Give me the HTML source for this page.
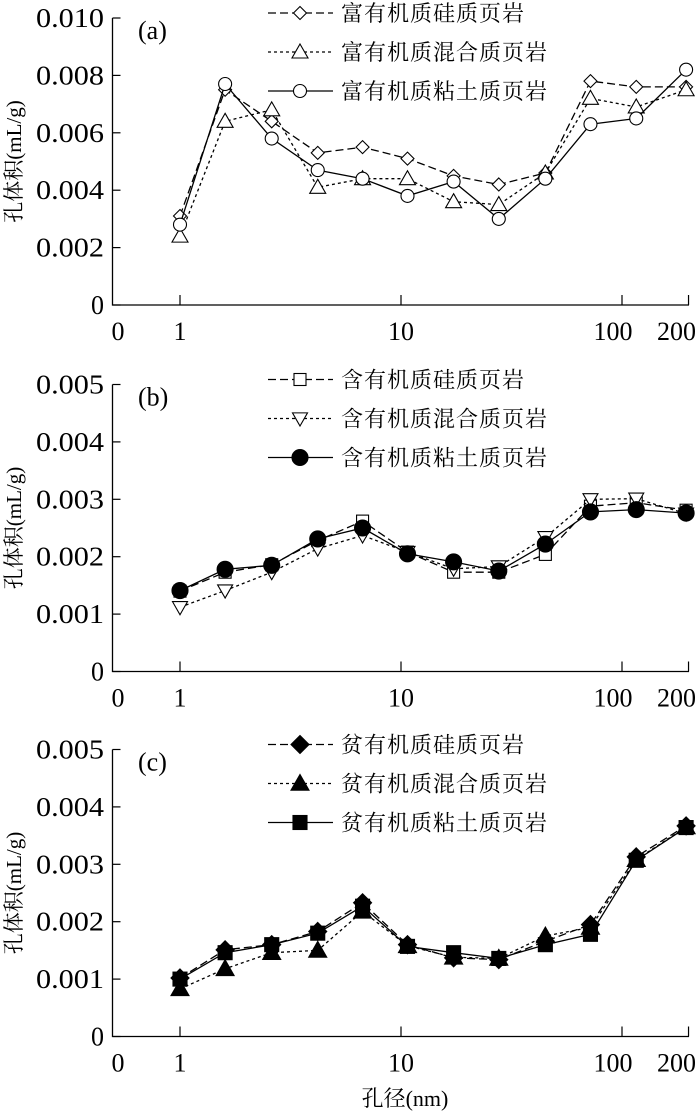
<!DOCTYPE html>
<html><head><meta charset="utf-8"><style>
html,body{margin:0;padding:0;background:#fff;}
svg{display:block;font-family:"Liberation Serif","Noto Serif CJK SC",serif;}
.cj{font-family:"Liberation Serif","Noto Serif CJK SC","Noto Sans CJK SC",serif;}
</style></head><body>
<svg id="chart" width="700" height="1115" viewBox="0 0 700 1115" xmlns="http://www.w3.org/2000/svg">
<text class="cj" x="405" y="1106" font-size="22" text-anchor="middle">孔径(nm)</text>
</svg>
<script>
const xValues=[1,1.6,2.6,4.2,6.7,10.7,17.3,27.7,45,72,116,195];
const xTickValues=[1,10,100,200];
const xTickLabels=["1","10","100","200"];
const aSilicic=[0.0031,0.0075,0.0064,0.0053,0.0055,0.0051,0.0045,0.0042,0.0046,0.0078,0.0076,0.0076];
const aMixed=[0.0024,0.0064,0.0068,0.0041,0.0044,0.0044,0.0036,0.0035,0.0046,0.0072,0.0069,0.0075];
const aClay=[0.0028,0.0077,0.0058,0.0047,0.0044,0.0038,0.0043,0.0030,0.0044,0.0063,0.0065,0.0082];
const bSilicic=[0.00140,0.00173,0.00186,0.00228,0.00262,0.00208,0.00173,0.00173,0.00204,0.00288,0.00294,0.00281];
const bMixed=[0.00112,0.00141,0.00173,0.00214,0.00237,0.00208,0.00179,0.00183,0.00234,0.00300,0.00301,0.00275];
const bClay=[0.00141,0.00178,0.00185,0.00231,0.00250,0.00205,0.00191,0.00175,0.00222,0.00278,0.00282,0.00276];
const cSilicic=[0.00102,0.00151,0.00160,0.00183,0.00233,0.00160,0.00137,0.00134,0.00166,0.00195,0.00313,0.00367];
const cMixed=[0.00083,0.00118,0.00146,0.00150,0.00218,0.00158,0.00138,0.00136,0.00175,0.00190,0.00308,0.00365];
const cClay=[0.00100,0.00146,0.00160,0.00180,0.00227,0.00157,0.00146,0.00136,0.00160,0.00178,0.00307,0.00364];
const aTicks=["0","0.002","0.004","0.006","0.008","0.010"];
const bTicks=["0","0.001","0.002","0.003","0.004","0.005"];
const aNames=["富有机质硅质页岩","富有机质混合质页岩","富有机质粘土质页岩"];
const bNames=["含有机质硅质页岩","含有机质混合质页岩","含有机质粘土质页岩"];
const cNames=["贫有机质硅质页岩","贫有机质混合质页岩","贫有机质粘土质页岩"];

const NS="http://www.w3.org/2000/svg";
const svg=document.getElementById('chart');
function mk(tag,attrs,parent){const e=document.createElementNS(NS,tag);for(const k in attrs)e.setAttribute(k,attrs[k]);(parent||svg).appendChild(e);return e;}
const X0=112.5,XR=689;
function xs(v){return 180+Math.log10(v)*221;}
const dashes=["8,4","3,3",""];

function marker(g,type,cx,cy,filled){
  const fill=filled?"#000":"#fff";let e;
  if(type==="diamond"){const r=filled?9:6.5;e=mk('polygon',{points:`${cx},${cy-r} ${cx+r},${cy} ${cx},${cy+r} ${cx-r},${cy}`,fill:fill,stroke:"#000","stroke-width":1.1},g);}
  else if(type==="tri"){const r=filled?9:8;e=mk('polygon',{points:`${cx},${cy-r} ${cx+r},${cy+r*0.75} ${cx-r},${cy+r*0.75}`,fill:fill,stroke:"#000","stroke-width":1.1},g);}
  else if(type==="tridown"){const r=7.5;e=mk('polygon',{points:`${cx},${cy+r} ${cx+r},${cy-r*0.75} ${cx-r},${cy-r*0.75}`,fill:fill,stroke:"#000","stroke-width":1.1},g);}
  else if(type==="circle"){e=mk('circle',{cx:cx,cy:cy,r:filled?8:6.5,fill:fill,stroke:"#000","stroke-width":1.1},g);}
  else if(type==="square"){const r=filled?7:6;e=mk('rect',{x:cx-r,y:cy-r,width:2*r,height:2*r,fill:fill,stroke:"#000","stroke-width":1.1},g);}
  
  
}

function panel(key,yBottom,yMax,ticks,label,series,names,types,filledArr){
  const yTop=yBottom-287;
  const ys=v=>yBottom-(v/yMax)*287;
  const g=mk('g',{});
  
  
  const ax=mk('path',{d:`M${X0},${yTop} V${yBottom} H${XR}`,fill:"none",stroke:"#000","stroke-width":1.3},g);
  
  
  ticks.forEach((t,i)=>{
    const v=yMax*i/(ticks.length-1),y=ys(v);
    mk('line',{x1:X0,x2:X0+8,y1:y,y2:y,stroke:"#000","stroke-width":1.2},g);
    const tx=mk('text',{x:104,y:y+9,"font-size":27,"text-anchor":"end",textLength:t.length>1?68:13,lengthAdjust:"spacingAndGlyphs"},g);
    tx.textContent=t;
    
    
  });
  const zl=mk('text',{x:118,y:yBottom+35,"font-size":26,"text-anchor":"middle"},g);zl.textContent="0";
  
  
  const labelShift=[0,0,-9,-12];
  xTickValues.forEach((v,i)=>{
    const x=xs(v);
    mk('line',{x1:x,x2:x,y1:yBottom,y2:yBottom-10,stroke:"#000","stroke-width":1.2},g);
    const tx=mk('text',{x:x+labelShift[i],y:yBottom+35,"font-size":26,"text-anchor":"middle"},g);
    tx.textContent=xTickLabels[i];
    
    
  });
  const yt=mk('text',{x:0,y:0,"font-size":21,"text-anchor":"middle",class:"cj",transform:`translate(21,${(yTop+yBottom)/2}) rotate(-90)`},g);
  yt.textContent="孔体积(mL/g)";
  
  
  const pl=mk('text',{x:138,y:yTop+21,"font-size":26},g);pl.textContent=label;
  
  
  series.forEach((arr,si)=>{
    const sg=mk('g',{},g);
    
    
    const pts=arr.map((v,i)=>`${xs(xValues[i]).toFixed(1)},${ys(v).toFixed(1)}`).join(' ');
    const pl2=mk('polyline',{points:pts,fill:"none",stroke:"#000","stroke-width":1.3},sg);
    if(dashes[si])pl2.setAttribute('stroke-dasharray',dashes[si]);
    arr.forEach((v,i)=>marker(sg,types[si],xs(xValues[i]),ys(v),filledArr[si]));
  });
  names.forEach((n,i)=>{
    const ly=yTop-5+i*39;
    const lg=mk('g',{},g);
    
    
    const ln=mk('line',{x1:268,x2:333,y1:ly,y2:ly,stroke:"#000","stroke-width":1.3},lg);
    if(dashes[i])ln.setAttribute('stroke-dasharray',dashes[i]);
    marker(lg,types[i],300,ly,filledArr[i]);
    const tx=mk('text',{x:341,y:ly+8,"font-size":22,"letter-spacing":"1",class:"cj"},lg);
    tx.textContent=n;
  });
}
panel('a',305,0.010,aTicks,"(a)",[aSilicic,aMixed,aClay],aNames,["diamond","tri","circle"],[false,false,false]);
panel('b',671.5,0.005,bTicks,"(b)",[bSilicic,bMixed,bClay],bNames,["square","tridown","circle"],[false,false,true]);
panel('c',1036.5,0.005,bTicks,"(c)",[cSilicic,cMixed,cClay],cNames,["diamond","tri","square"],[true,true,true]);
</script>
</body></html>
